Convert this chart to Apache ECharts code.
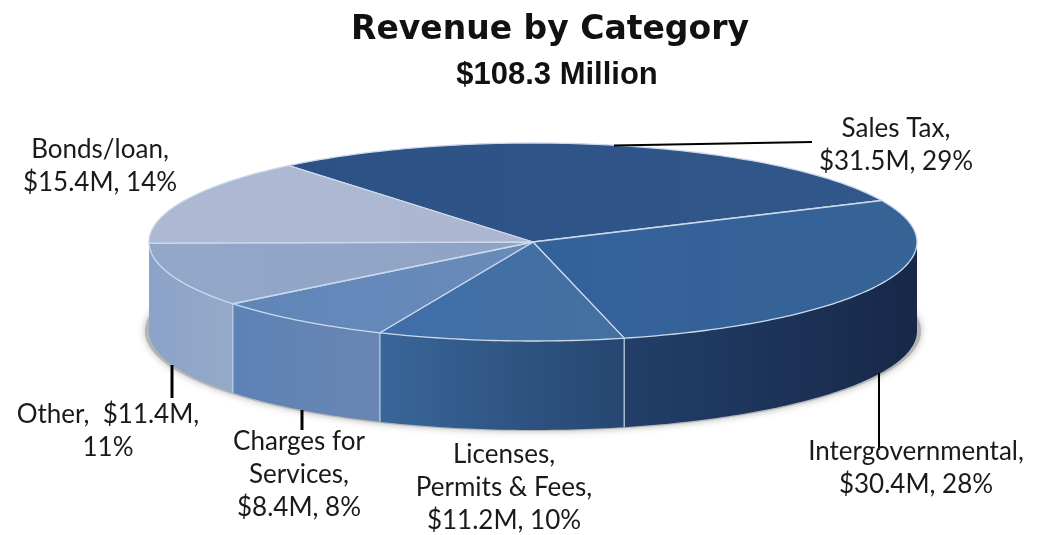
<!DOCTYPE html>
<html>
<head>
<meta charset="utf-8">
<style>html,body{margin:0;padding:0;background:#fff}#main{width:1042px;height:535px}</style>
<script src="https://cdn.jsdelivr.net/npm/echarts@6/dist/echarts.min.js"></script>
</head>
<body>
<div id="main"></div>
<script>
var categories = ['Sales Tax', 'Intergovernmental', 'Licenses, Permits & Fees', 'Charges for Services', 'Other', 'Bonds/loan'];
var values = [31.5, 30.4, 11.2, 8.4, 11.4, 15.4];
var labelTexts = [
  'Sales Tax,\n$31.5M, 29%',
  'Intergovernmental,\n$30.4M, 28%',
  'Licenses,\nPermits & Fees,\n$11.2M, 10%',
  'Charges for\nServices,\n$8.4M, 8%',
  'Other,  $11.4M,\n11%',
  'Bonds/loan,\n$15.4M, 14%'
];
var titleText = 'Revenue by Category';
var subtitleText = '$108.3 Million';

// pie geometry
var cx = 533, cy = 242, rx = 384, ry = 99, depth = 89;
var startAngle = -39.5; // clockwise from the top

var topColors = [
  ['#2c5285', '#31578b'],
  ['#33619a', '#366496'],
  ['#3f6ea9', '#44719f'],
  ['#5f86b9', '#6a8bba'],
  ['#93a7c8', '#8fa3c4'],
  ['#adb9d3', '#acb6d0']
];
var sideColors = [
  ['#1a2d4d', '#1a2d4d'],
  ['#223f69', '#172848'],
  ['#396699', '#264670'],
  ['#5c82b6', '#6a86b2'],
  ['#8aa3c8', '#97a9c8'],
  ['#8aa3c8', '#8aa3c8']
];

var total = values.reduce(function (a, b) { return a + b; }, 0);
var rows = [];
var sum = 0;
for (var i = 0; i < values.length; i++) {
  rows.push([sum, sum + values[i], i]);
  sum += values[i];
}

function toAngle(v) {
  return startAngle + v / total * 360;
}
function pt(deg, dy) {
  var r = deg * Math.PI / 180;
  return [cx + rx * Math.sin(r), cy - ry * Math.cos(r) + (dy || 0)];
}
function arc(a0, a1, dy) {
  var pts = [];
  var n = Math.max(2, Math.ceil(Math.abs(a1 - a0)));
  for (var k = 0; k <= n; k++) {
    pts.push(pt(a0 + (a1 - a0) * k / n, dy));
  }
  return pts;
}
function grad(c) {
  return { type: 'linear', x: 0, y: 0, x2: 1, y2: 0, colorStops: [{ offset: 0, color: c[0] }, { offset: 1, color: c[1] }] };
}

function renderTop(params, api) {
  var a0 = toAngle(api.value(0)), a1 = toAngle(api.value(1));
  var pts = [[cx, cy]].concat(arc(a0, a1));
  return {
    type: 'polygon',
    shape: { points: pts },
    style: { fill: grad(topColors[api.value(2)]), stroke: '#ccd9ec', lineWidth: 1.3, lineJoin: 'round' }
  };
}

function renderSide(params, api) {
  var a0 = Math.max(toAngle(api.value(0)), 90), a1 = Math.min(toAngle(api.value(1)), 270);
  if (a1 <= a0) return { type: 'group', children: [] };
  var pts = arc(a0, a1).concat(arc(a1, a0, depth));
  var q = pt(a1);
  var children = [{
    type: 'polygon',
    shape: { points: pts },
    style: { fill: grad(sideColors[api.value(2)]) }
  }];
  if (a1 < 269) {
    children.push({
      type: 'line',
      z2: 5,
      shape: { x1: q[0], y1: q[1], x2: q[0], y2: q[1] + depth },
      style: { stroke: '#b9cbe4', lineWidth: 1.3 }
    });
  }
  return { type: 'group', children: children };
}

function renderShadow() {
  return {
    type: 'ellipse',
    shape: { cx: cx, cy: cy + depth, rx: rx + 4, ry: ry + 1 },
    style: { fill: '#b4b4b4', shadowBlur: 7, shadowColor: 'rgba(120,120,120,0.55)' }
  };
}

// label anchors and leader lines, in pixels
var labelPos = [[896, 145], [916, 468], [504, 488], [299, 475], [108, 431], [100, 166]];
var leaders = [
  [[614, 145.5], [812, 142], 2],
  [[879, 373], [879, 450], 2],
  [[302, 410], [302, 430], 3],
  [[172, 365], [172, 398], 3]
];

var graphics = [];
leaders.forEach(function (l) {
  graphics.push({
    type: 'line', z: 20,
    shape: { x1: l[0][0], y1: l[0][1], x2: l[1][0], y2: l[1][1] },
    style: { stroke: '#000', lineWidth: l[2] }
  });
});
labelTexts.forEach(function (t, i) {
  graphics.push({
    type: 'text', z: 21,
    x: labelPos[i][0], y: labelPos[i][1],
    style: {
      text: t, fill: '#1a1a1a', font: '26px Lato',
      align: 'center', verticalAlign: 'middle', lineHeight: 33
    }
  });
});

var chart = echarts.init(document.getElementById('main'), null, { renderer: 'canvas' });
chart.setOption({
  animation: false,
  backgroundColor: '#fff',
  title: [
    { text: titleText, left: 545, top: 9, textAlign: 'center', textStyle: { fontFamily: 'DejaVu Sans', fontWeight: 'bold', fontSize: 33, color: '#111' } },
    { text: subtitleText, left: 552, top: 55, textAlign: 'center', textStyle: { fontFamily: 'Liberation Sans', fontWeight: 'bold', fontSize: 31, color: '#111' } }
  ],
  series: [
    { type: 'custom', name: 'shadow', coordinateSystem: 'none', silent: true, z: 1, renderItem: renderShadow, data: [[0]] },
    { type: 'custom', name: 'sides', coordinateSystem: 'none', silent: true, z: 2, renderItem: renderSide, data: rows },
    { type: 'custom', name: 'tops', coordinateSystem: 'none', silent: true, z: 3, renderItem: renderTop, data: rows }
  ],
  graphic: graphics
});
</script>
</body>
</html>
